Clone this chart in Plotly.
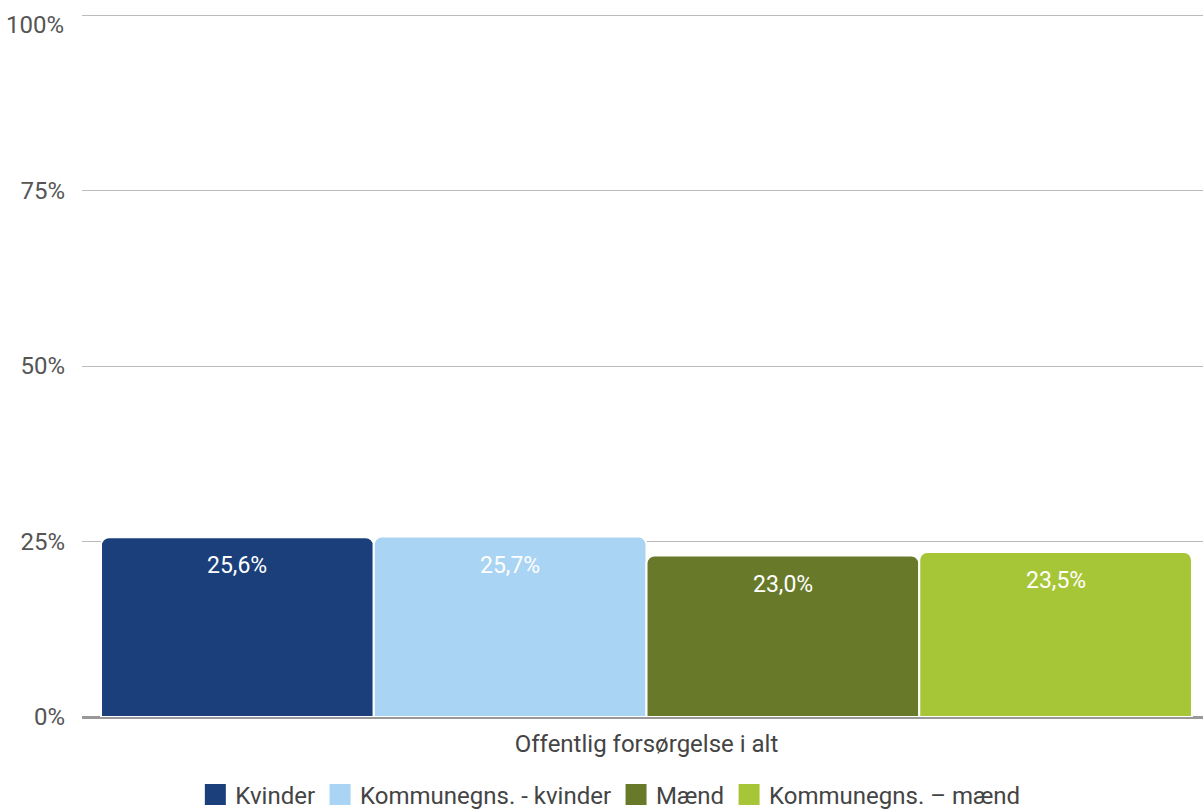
import plotly.graph_objects as go

category = ["Offentlig forsørgelse i alt"]
series_names = ["Kvinder", "Kommunegns. - kvinder", "Mænd", "Kommunegns. – mænd"]
series_values = [25.6, 25.7, 23.0, 23.5]
series_colors = ["#1a3f7a", "#a9d4f4", "#687a2a", "#a7c637"]
tick_vals = [0, 25, 50, 75, 100]
tick_text = ["0%", "25%", "50%", "75%", ""]
top_label = "100%"

BARGAP = 0.0337
n = len(series_values)

fig = go.Figure()
for name, val, col in zip(series_names, series_values, series_colors):
    fig.add_trace(go.Bar(
        x=category, y=[val], name=name, showlegend=False,
        marker=dict(color=col, line=dict(color="white", width=2)),
        hoverinfo="skip",
    ))
    fig.add_trace(go.Scatter(
        x=[None], y=[None], mode="markers", name=name,
        marker=dict(symbol="square", size=22, color=col,
                    line=dict(color=col, width=8)),
    ))

# value labels, placed at each bar's centre within the group
slot = (1 - BARGAP) / n
for i, val in enumerate(series_values):
    fig.add_annotation(
        x=(i - (n - 1) / 2) * slot, y=val, xref="x", yref="y",
        text=f"{val:.1f}%".replace(".", ","),
        showarrow=False, yanchor="top", yshift=-13,
        font=dict(family="Roboto", size=23, color="white"),
    )

# top tick label, nudged down to stay inside the page
fig.add_annotation(
    x=0, xref="paper", xanchor="right", xshift=-16,
    y=tick_vals[-1], yref="y", yanchor="middle", yshift=-10,
    text=top_label, showarrow=False,
    font=dict(family="Roboto", size=24, color="#555555"),
)

fig.update_layout(
    width=1211, height=810,
    margin=dict(l=82, r=0, t=13, b=93, autoexpand=False),
    plot_bgcolor="white", paper_bgcolor="white",
    barmode="group", bargap=BARGAP, bargroupgap=0,
    barcornerradius=8,
    font=dict(family="Roboto", size=24, color="#555555"),
    xaxis=dict(showgrid=False, ticks="", tickfont=dict(size=24, color="#444444"),
               showline=False, automargin=False, ticklabelstandoff=10),
    yaxis=dict(range=[0, 100.3], tickvals=tick_vals, ticktext=tick_text,
               gridcolor="#bbbbbb", gridwidth=1, zeroline=True,
               zerolinecolor="#999999", zerolinewidth=3,
               tickfont=dict(size=24, color="#555555"), ticks="",
               ticklabelstandoff=16, automargin=False),
    legend=dict(orientation="h", xref="container", x=0.504, xanchor="center",
                yref="container", y=0.0185, yanchor="middle",
                font=dict(size=24, color="#444444"), itemwidth=30,
                tracegroupgap=0),
    showlegend=True,
)

fig.write_html(
    "out.html",
    config={"displayModeBar": False},
    post_script="document.body.style.margin='0';document.body.style.overflow='hidden';",
)
